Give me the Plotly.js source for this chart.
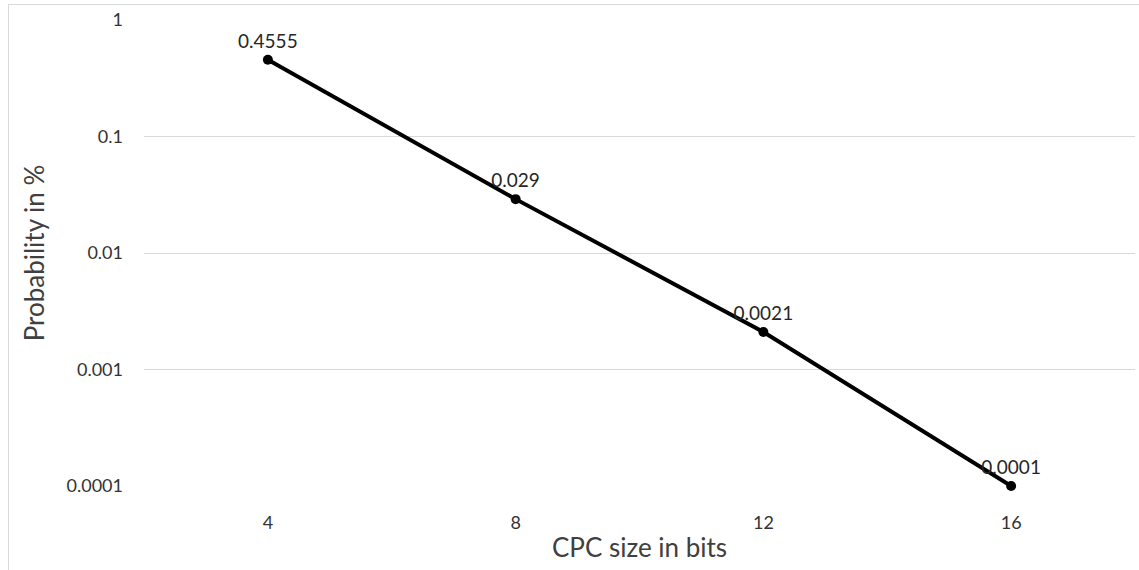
<!DOCTYPE html>
<html>
<head>
<meta charset="utf-8">
<script src="https://cdn.plot.ly/plotly-3.0.1.min.js"></script>
<style>
html,body{margin:0;padding:0;background:#fff;}
#wrap{position:relative;width:1139px;height:570px;}
#chart{width:1139px;height:570px;}
#frame{position:absolute;left:8px;top:4px;width:1200px;height:700px;border:1px solid #d9d9d9;pointer-events:none;}
</style>
</head>
<body>
<div id="wrap"><div id="chart"></div><div id="frame"></div></div>
<script>
const categories = ["4", "8", "12", "16"];
const probability = [0.4555, 0.029, 0.0021, 0.0001];
const labels = ["0.4555", "0.029", "0.0021", "0.0001"];
const yTickVals = [1, 0.1, 0.01, 0.001, 0.0001];
const yTickText = ["1", "0.1", "0.01", "0.001", "0.0001"];

const font = "Lato, 'Open Sans', sans-serif";

Plotly.newPlot('chart', [{
  x: categories,
  y: probability,
  type: 'scatter',
  mode: 'lines+markers+text',
  text: labels,
  textposition: 'top center',
  textfont: {family: font, size: 19, color: '#262626'},
  line: {color: '#000', width: 4},
  marker: {color: '#000', size: 10},
  cliponaxis: false,
  hoverinfo: 'x+y'
}], {
  width: 1139, height: 570,
  margin: {l: 144, r: 4, t: 20, b: 84},
  paper_bgcolor: 'rgba(0,0,0,0)',
  plot_bgcolor: '#fff',
  showlegend: false,
  font: {family: font, color: '#262626'},
  xaxis: {
    type: 'category',
    range: [-0.5, 3.5],
    showgrid: false, zeroline: false, showline: false,
    ticks: '', ticklabelstandoff: 24,
    tickfont: {family: font, size: 18, color: '#333333'},
    title: {text: 'CPC size in bits', font: {family: font, size: 26, color: '#404040'}, standoff: 6}
  },
  yaxis: {
    type: 'log',
    range: [-4, 0],
    tickvals: yTickVals,
    ticktext: yTickText,
    showgrid: true, gridcolor: '#d9d9d9', gridwidth: 1,
    zeroline: false, showline: false,
    ticks: '', ticklabelstandoff: 20,
    tickfont: {family: font, size: 18, color: '#333333'},
    title: {text: 'Probability in %', font: {family: font, size: 26, color: '#404040'}, standoff: 14}
  }
}, {displayModeBar: false, staticPlot: true});
</script>
</body>
</html>
